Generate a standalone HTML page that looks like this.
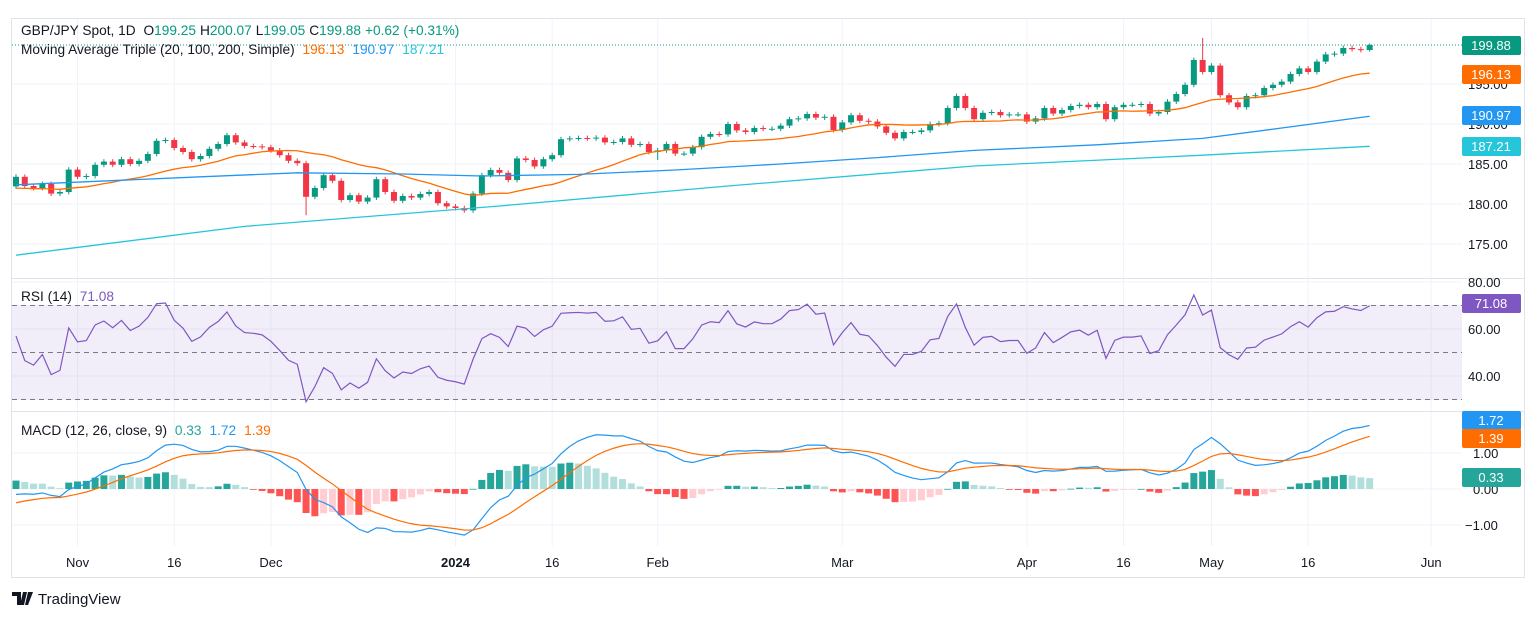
<!DOCTYPE html>
<html><head><meta charset="utf-8"><style>
html,body{margin:0;padding:0;background:#fff;}
svg{display:block;font-family:"Liberation Sans",sans-serif;}
</style></head><body>
<svg id="chart" width="1536" height="618" viewBox="0 0 1536 618">
<rect x="0" y="0" width="1536" height="618" fill="#fff"/>
<rect x="11.5" y="18.5" width="1513" height="559" fill="none" stroke="#e0e3eb"/>
<g id="grid"></g>
<rect x="12" y="305" width="1450" height="95" fill="rgba(126,87,194,0.1)"/>
<g id="marks"></g>
<line x1="12" y1="278.5" x2="1524" y2="278.5" stroke="#e0e3eb"/>
<line x1="12" y1="411.5" x2="1524" y2="411.5" stroke="#e0e3eb"/>
<g id="axis"></g>
<g font-size="13.7">
<text x="21" y="35" fill="#131722">GBP/JPY Spot, 1D <tspan fill="#131722" dx="4">O</tspan><tspan fill="#089981">199.25</tspan><tspan fill="#131722" dx="4">H</tspan><tspan fill="#089981">200.07</tspan><tspan fill="#131722" dx="4">L</tspan><tspan fill="#089981">199.05</tspan><tspan fill="#131722" dx="4">C</tspan><tspan fill="#089981">199.88</tspan><tspan fill="#089981" dx="4">+0.62 (+0.31%)</tspan></text>
<text x="21" y="54" fill="#131722">Moving Average Triple (20, 100, 200, Simple) <tspan fill="#ff6d00" dx="4">196.13</tspan><tspan fill="#2196f3" dx="8">190.97</tspan><tspan fill="#26c6da" dx="8">187.21</tspan></text>
<text x="21" y="301" fill="#131722">RSI (14) <tspan fill="#7e57c2" dx="4">71.08</tspan></text>
<text x="21" y="435" fill="#131722">MACD (12, 26, close, 9) <tspan fill="#26a69a" dx="4">0.33</tspan><tspan fill="#2196f3" dx="8">1.72</tspan><tspan fill="#ff6d00" dx="8">1.39</tspan></text>
</g>
<g>
<path d="M12 592h9v13h-4v-9h-5z M23 592h4l-3 13h-4z M28 592h5l-5 13h-3z" fill="#131722"/>
<text x="38" y="604" font-size="15" fill="#131722">TradingView</text>
</g>
</svg>
<script>
const warmup=[183.8,183.6,183.9,183.4,183.2,183.5,183.0,182.7,182.9,182.4,182.1,182.3,181.8,181.5,181.7,181.2,181.0,181.4,181.1,181.6,181.9,181.5,182.0,182.4,182.1,182.6];
const closes=[183.4,182.25,182.0,182.5,181.3,181.5,184.3,183.4,183.5,184.9,185.3,184.9,185.6,185.0,185.4,186.25,187.9,188.0,187.0,186.5,185.6,186.0,186.9,187.5,188.6,187.7,187.25,187.2,187.1,186.7,186.1,185.4,185.1,180.9,182.0,183.6,182.9,180.5,181.1,180.3,180.8,183.1,181.5,180.4,181.0,180.8,181.25,181.5,180.1,179.7,179.5,179.2,181.3,183.6,184.25,183.9,183.0,185.7,185.5,184.7,185.6,186.1,188.1,188.2,188.25,188.2,188.3,187.7,187.75,188.2,187.4,187.5,186.5,186.7,187.5,186.3,186.3,187.1,188.4,188.75,188.7,190.0,189.2,189.0,189.5,189.4,189.4,189.8,190.6,190.7,191.25,190.8,190.9,189.25,190.2,191.1,190.4,190.3,189.7,188.9,188.2,189.0,189.0,189.2,190.0,190.1,192.0,193.5,192.0,190.6,191.4,191.5,191.1,191.2,191.2,190.3,190.7,192.0,191.3,191.75,192.25,192.4,192.1,192.5,190.6,192.1,192.4,192.4,192.5,191.3,191.5,192.8,193.75,194.9,198.0,196.5,197.3,193.6,192.7,192.1,193.5,193.6,194.5,194.9,195.3,196.25,196.95,196.5,197.8,198.7,198.8,199.5,199.35,199.25,199.88];
const firstOpen=182.2;
const wickHiIdx=[135,154,33,73];
const wickHiVal=[200.75,200.07,null,null];
const wickLoVal=[null,199.05,178.6,185.5];
const ma100Idx=[0,21,32,44,53,64,75,87,98,109,123,135,144,154];
const ma100Val=[182.4,183.4,183.9,183.75,183.5,183.7,184.25,185.0,185.8,186.7,187.4,188.2,189.5,190.97];
const ma200Idx=[0,26,55,81,109,135,154];
const ma200Val=[173.6,177.2,179.75,182.25,184.75,186.1,187.21];
const priceTicks=[175,180,185,190,195];
const rsiTicks=[80,60,40];
const macdTicks=[1,0,-1];
const timeTickIdx=[7,18,29,50,61,73,94,115,126,136,147,161];
const timeTickLbl=["Nov","16","Dec","2024","16","Feb","Mar","Apr","16","May","16","Jun"];

const NS="http://www.w3.org/2000/svg";
const X=i=>16+i*8.79;
const YP=p=>44+(200-p)*8;
const YR=v=>282+(80-v)*2.35;
const YM=v=>489-v*36;
const grid=document.getElementById('grid'),marks=document.getElementById('marks'),axis=document.getElementById('axis');
function mk(tag,attrs,parent){const e=document.createElementNS(NS,tag);for(const k in attrs)e.setAttribute(k,attrs[k]);parent.appendChild(e);return e;}

priceTicks.forEach(p=>{const l=mk('line',{x1:12,x2:1462,y1:YP(p),y2:YP(p),stroke:'#f0f3fa'},grid);

});
rsiTicks.forEach(v=>{const l=mk('line',{x1:12,x2:1462,y1:YR(v),y2:YR(v),stroke:'#f0f3fa'},grid);

});
macdTicks.forEach(v=>{const l=mk('line',{x1:12,x2:1462,y1:YM(v),y2:YM(v),stroke:'#f0f3fa'},grid);

});
timeTickIdx.forEach(i=>{const l=mk('line',{x1:X(i),x2:X(i),y1:19,y2:546,stroke:'#f0f3fa'},grid);

});

closes.forEach((c,i)=>{
 const o=i===0?firstOpen:closes[i-1];
 const up=c>=o, col=up?'#089981':'#f23645';
 let hi=Math.max(o,c)+0.3, lo=Math.min(o,c)-0.3;
 const k=wickHiIdx.indexOf(i);
 if(k>=0){if(wickHiVal[k]!==null)hi=wickHiVal[k];if(wickLoVal[k]!==null)lo=wickLoVal[k];}
 const w=mk('line',{x1:X(i),x2:X(i),y1:YP(hi),y2:YP(lo),stroke:col,'stroke-width':1},marks);
 
 
 const top=YP(Math.max(o,c)),bh=Math.max(1,YP(Math.min(o,c))-top);
 const b=mk('rect',{x:X(i)-3,y:top,width:6,height:bh,fill:col},marks);
 
 
});

const all=warmup.concat(closes),W=warmup.length;
let pts=[];
for(let i=0;i<closes.length;i++){let s=0;for(let j=0;j<20;j++)s+=all[W+i-j];pts.push(X(i)+','+YP(s/20));}
const m20=mk('polyline',{points:pts.join(' '),fill:'none',stroke:'#ff6d00','stroke-width':1.3},marks);


const m100=mk('polyline',{points:ma100Idx.map((i,k)=>X(i)+','+YP(ma100Val[k])).join(' '),fill:'none',stroke:'#2196f3','stroke-width':1.3},marks);


const m200=mk('polyline',{points:ma200Idx.map((i,k)=>X(i)+','+YP(ma200Val[k])).join(' '),fill:'none',stroke:'#26c6da','stroke-width':1.3},marks);


const lastL=mk('line',{x1:12,x2:1462,y1:YP(closes[closes.length-1]),y2:YP(closes[closes.length-1]),stroke:'#089981','stroke-dasharray':'1 2'},marks);



let ag=0,al=0;for(let j=1;j<=14;j++){const d=all[j]-all[j-1];if(d>0)ag+=d;else al-=d;}ag/=14;al/=14;
const rsi=[];
for(let j=15;j<all.length;j++){const d=all[j]-all[j-1];ag=(ag*13+Math.max(d,0))/14;al=(al*13+Math.max(-d,0))/14;if(j>=W)rsi.push(100-100/(1+ag/(al||1e-9)));}
[70,50,30].forEach(v=>{const l=mk('line',{x1:12,x2:1462,y1:YR(v),y2:YR(v),stroke:'#787b86','stroke-dasharray':'5 4'},marks);

});
const rl=mk('polyline',{points:rsi.map((v,i)=>X(i)+','+YR(v)).join(' '),fill:'none',stroke:'#7e57c2','stroke-width':1.2},marks);



const ema=(arr,n)=>{const a=2/(n+1);let e=arr[0];return arr.map(v=>e=v*a+e*(1-a));};
const e12=ema(all,12),e26=ema(all,26);const macdAll=e12.map((v,i)=>v-e26[i]);const sigAll=ema(macdAll,9);
const macd=macdAll.slice(W),sig=sigAll.slice(W);
macd.forEach((m,i)=>{const h=m-sig[i],hp=i>0?macd[i-1]-sig[i-1]:h;
 const col=h>=0?(h>=hp?'#26a69a':'#b2dfdb'):(h<hp?'#ff5252':'#ffcdd2');
 const r=mk('rect',{x:X(i)-3.5,y:Math.min(YM(h),YM(0)),width:7,height:Math.max(0.8,Math.abs(YM(h)-YM(0))),fill:col},marks);
 
 });
const ml=mk('polyline',{points:macd.map((v,i)=>X(i)+','+YM(v)).join(' '),fill:'none',stroke:'#2196f3','stroke-width':1.2},marks);


const sl=mk('polyline',{points:sig.map((v,i)=>X(i)+','+YM(v)).join(' '),fill:'none',stroke:'#ff6d00','stroke-width':1.2},marks);



priceTicks.forEach(p=>{const t=mk('text',{x:1468,y:YP(p)+5,'font-size':13,fill:'#131722'},axis);t.textContent=p.toFixed(2);

});
rsiTicks.forEach(v=>{const t=mk('text',{x:1468,y:YR(v)+5,'font-size':13,fill:'#131722'},axis);t.textContent=v.toFixed(2);

});
macdTicks.forEach(v=>{const t=mk('text',{x:v<0?1465:1473,y:YM(v)+5,'font-size':13,fill:'#131722'},axis);t.textContent=(v<0?'\u22121.00':v.toFixed(2));

});
timeTickIdx.forEach((i,k)=>{const t=mk('text',{x:X(i),y:567,'font-size':13,fill:'#131722','text-anchor':'middle','font-weight':timeTickLbl[k]==='2024'?'bold':'normal'},axis);t.textContent=timeTickLbl[k];

});
function badge(val,y,col,name){const g=mk('g',{},axis);
 
 
 mk('rect',{x:1462,y:y-9,width:59,height:19,rx:2,fill:col},g);
 const t=mk('text',{x:1491,y:y+5,'font-size':13,fill:'#fff','text-anchor':'middle'},g);t.textContent=val;}
badge('199.88',YP(199.88),'#089981','last-price-badge');
badge('196.13',74,'#ff6d00','ma20-badge');
badge('190.97',115,'#2196f3','ma100-badge');
badge('187.21',146,'#26c6da','ma200-badge');
badge('71.08',303,'#7e57c2','rsi-badge');
badge('1.72',420,'#2196f3','macd-badge');
badge('1.39',438,'#ff6d00','signal-badge');
badge('0.33',477,'#26a69a','histogram-badge');
</script>
</body></html>
